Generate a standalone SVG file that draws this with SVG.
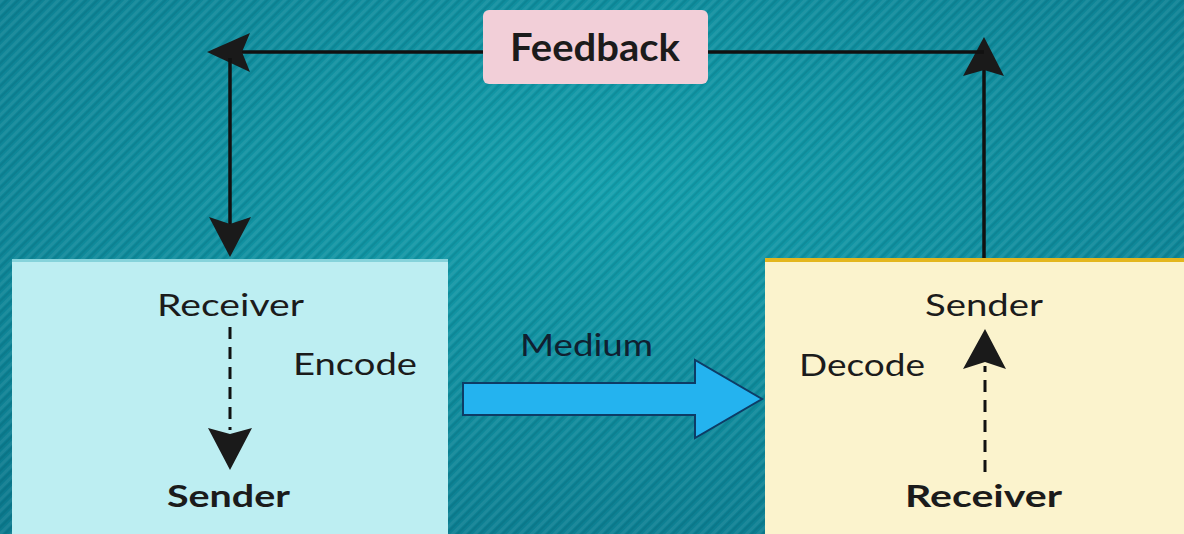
<svg xmlns="http://www.w3.org/2000/svg" width="1184" height="534" viewBox="0 0 1184 534">
  <defs>
    <radialGradient id="bg" cx="50%" cy="35%" r="75%">
      <stop offset="0" stop-color="#13a0ad"/>
      <stop offset="1" stop-color="#0b7a8e"/>
    </radialGradient>
    <pattern id="stripes" width="8" height="8" patternUnits="userSpaceOnUse" patternTransform="rotate(45)">
      <rect width="8" height="8" fill="none"/>
      <rect x="0" y="0" width="3" height="8" fill="#ffffff" fill-opacity="0.07"/>
      <rect x="4" y="0" width="2" height="8" fill="#003040" fill-opacity="0.10"/>
    </pattern>
    <style>
      .txt { font-family: Lato, "Noto Sans", "DejaVu Sans", sans-serif; fill: #1b1b1b; }
      .reg { font-size: 31px; }
      .bold { font-size: 31px; font-weight: bold; }
      .big { font-size: 38px; font-weight: bold; }
      .line { stroke: #111111; stroke-width: 3.5; fill: none; }
      .dash { stroke: #111111; stroke-width: 3; fill: none; stroke-dasharray: 12 8; }
      .ah { fill: #1a1a1a; }
    </style>
  </defs>

  <rect width="1184" height="534" fill="url(#bg)"/>
  <rect width="1184" height="534" fill="url(#stripes)"/>

  <g id="connectors">
    <line class="line" x1="984" y1="258" x2="984" y2="60"/>
    <path class="ah" d="M984,37 L1004,76 L984,70 L963,76 Z"/>
    <line class="line" x1="984" y1="52" x2="708" y2="52"/>
    <line class="line" x1="483" y1="52" x2="225" y2="52"/>
    <path class="ah" d="M207,52 L250,33 L242,52 L250,72 Z"/>
    <line class="line" x1="230" y1="58" x2="230" y2="225"/>
    <path class="ah" d="M230,257 L209,217 L230,224 L251,217 Z"/>
  </g>

  <g id="sender-box">
    <rect x="12" y="260" width="436" height="290" fill="#bdeef2"/>
    <rect x="12" y="259" width="436" height="3" fill="#86d3db"/>
    <text class="txt reg" x="157" y="316" textLength="147" lengthAdjust="spacingAndGlyphs">Receiver</text>
    <line class="dash" x1="230" y1="327" x2="230" y2="430"/>
    <path class="ah" d="M230,470 L208,428 L230,434 L252,428 Z"/>
    <text class="txt reg" x="293" y="375" textLength="124" lengthAdjust="spacingAndGlyphs">Encode</text>
    <text class="txt bold" x="167" y="507" textLength="123" lengthAdjust="spacingAndGlyphs">Sender</text>
  </g>

  <g id="receiver-box">
    <rect x="765" y="260" width="430" height="290" fill="#fbf3cd"/>
    <rect x="765" y="258" width="430" height="4" fill="#e3b61e"/>
    <text class="txt reg" x="925" y="316" textLength="118" lengthAdjust="spacingAndGlyphs">Sender</text>
    <text class="txt reg" x="799" y="376" textLength="126" lengthAdjust="spacingAndGlyphs">Decode</text>
    <line class="dash" x1="985" y1="472" x2="985" y2="366"/>
    <path class="ah" d="M985,329 L1006,369 L985,362 L963,369 Z"/>
    <text class="txt bold" x="905" y="507" textLength="157" lengthAdjust="spacingAndGlyphs">Receiver</text>
  </g>

  <g id="medium">
    <path d="M463,383 L695,383 L695,360 L762,399 L695,438 L695,415 L463,415 Z" fill="#24b3ef" stroke="#0d3c66" stroke-width="2"/>
    <text class="txt reg" x="520" y="356" textLength="133" lengthAdjust="spacingAndGlyphs" style="fill:#102030">Medium</text>
  </g>

  <g id="feedback">
    <rect x="483" y="10" width="225" height="74" rx="6" fill="#f2cfd8"/>
    <text class="txt big" x="510" y="61" textLength="170" lengthAdjust="spacingAndGlyphs">Feedback</text>
  </g>
</svg>
